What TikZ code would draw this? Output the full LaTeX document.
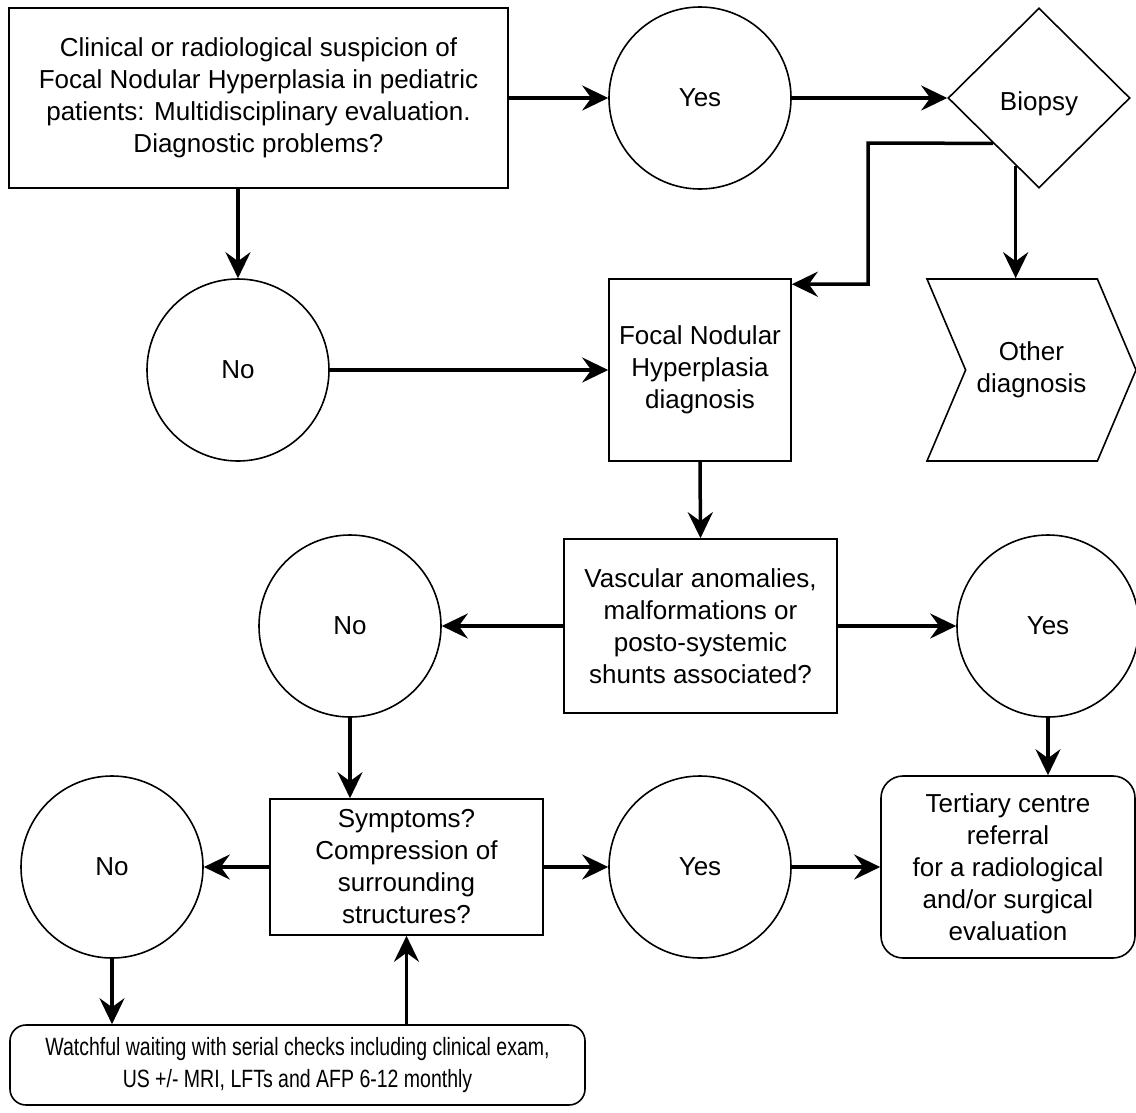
\documentclass[tikz,border=0pt]{standalone}
\usepackage{fontspec}
\setmainfont{Liberation Sans}
\usetikzlibrary{arrows.meta, shapes.geometric, shapes.symbols}

\begin{document}
\begin{tikzpicture}[x=1pt, y=-1pt,
        every node/.style={font=\fontsize{26}{32}\selectfont, align=center, inner sep=0pt},
        box/.style={draw, line width=1.6pt},
        answer/.style={draw, circle, line width=1.6pt, minimum size=182pt},
        arr/.style={-{Stealth[length=26pt, width=25pt, inset=9pt]}, line width=3.5pt}]
    \useasboundingbox (0,0) rectangle (1136,1112);

    % top row
    \node[box, minimum width=499pt, minimum height=180pt] (start) at (258.5, 98)
        {Clinical or radiological suspicion of\\Focal Nodular Hyperplasia in pediatric\\
         patients: Multidisciplinary evaluation.\\Diagnostic problems?};
    \node[answer] (yes1) at (700, 98) {Yes};
    \node[box, diamond, minimum width=182pt, minimum height=180pt] (biopsy) at (1039, 98)
        {\rule{0pt}{30pt}Biopsy};

    % second row
    \node[answer] (no1) at (238, 370) {No};
    \node[box, minimum width=182pt, minimum height=182pt] (fnh) at (700, 370)
        {Focal Nodular\\Hyperplasia\\diagnosis};
    \node[box, signal, signal to=east, signal from=west, signal pointer angle=134,
          minimum width=209pt, minimum height=182pt] (other) at (1031.5, 370)
        {Other\\diagnosis};

    % third row
    \node[answer] (no2) at (350, 626) {No};
    \node[box, minimum width=273pt, minimum height=174pt] (vasc) at (700.5, 626)
        {Vascular anomalies,\\malformations or\\posto-systemic\\shunts associated?};
    \node[answer] (yes2) at (1048, 626) {Yes};

    % fourth row
    \node[answer] (no3) at (112, 867) {No};
    \node[box, minimum width=273pt, minimum height=136pt] (symp) at (406.5, 867)
        {Symptoms?\\Compression of\\surrounding\\structures?};
    \node[answer] (yes3) at (700, 867) {Yes};
    \node[box, rounded corners=22pt, minimum width=254pt, minimum height=182pt] (tert) at (1008, 867)
        {Tertiary centre\\referral\\for a radiological\\and/or surgical\\evaluation};

    % bottom
    \node[box, rounded corners=16pt, minimum width=575pt, minimum height=80pt,
          font=\fontsize{25}{32}\selectfont] (watch) at (297.5, 1065)
        {\scalebox{0.78}[1]{\begin{tabular}{@{}c@{}}Watchful waiting with serial checks including clinical exam,\\
         US +/- MRI, LFTs and AFP 6-12 monthly\end{tabular}}};

    \coordinate (bend) at (868, 143);

    \draw[arr] (start.east) -- (yes1.west);
    \draw[arr] (yes1.east) -- (biopsy.west);
    \draw[arr] (no1.north |- start.south) -- (no1.north);
    \draw[arr] (no1.east) -- (fnh.west);
    \draw[arr] (biopsy.south west) -- (bend) |- ([yshift=-6pt]fnh.north east);
    \draw[arr] (biopsy.251) -- (biopsy.251 |- other.north);
    \draw[arr] (fnh.south) -- (vasc.north);
    \draw[arr] (vasc.west) -- (no2.east);
    \draw[arr] (vasc.east) -- (yes2.west);
    \draw[arr] (no2.south) -- (no2.south |- symp.north);
    \draw[arr] (yes2.south) -- (yes2.south |- tert.north);
    \draw[arr] (symp.west) -- (no3.east);
    \draw[arr] (symp.east) -- (yes3.west);
    \draw[arr] (yes3.east) -- (tert.west);
    \draw[arr] (no3.south) -- (no3.south |- watch.north);
    \draw[arr] (symp.south |- watch.north) -- (symp.south);
\end{tikzpicture}
\end{document}
